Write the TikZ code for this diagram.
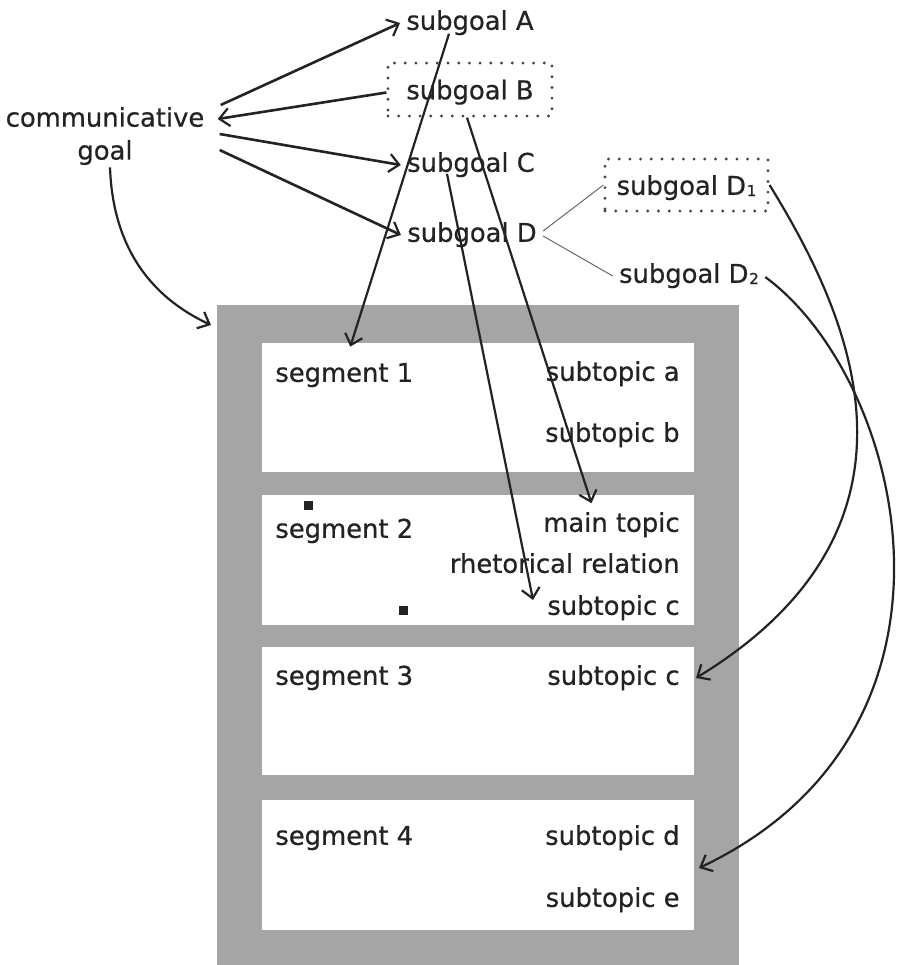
\documentclass[tikz,border=0pt]{standalone}
\usepackage{fontspec}
\setmainfont{DejaVu Sans}[FakeBold=0.6]
\usetikzlibrary{arrows.meta,calc}
\definecolor{ink}{RGB}{35,35,35}
\definecolor{band}{RGB}{165,165,165}
\definecolor{dots}{RGB}{70,70,70}
\definecolor{twig}{RGB}{105,105,105}
\newcommand{\subidx}[1]{\kern0.4pt\raisebox{-0.6pt}{\fontsize{7.5pt}{7.5pt}\selectfont #1}}

\begin{document}
\begin{tikzpicture}[x=0.5pt,y=-0.5pt,
  lbl/.style={font=\fontsize{12.9pt}{16.5pt}\selectfont, text=ink, inner sep=3pt,
              text height=9.6pt, text depth=2.8pt},
  goalbox/.style={lbl, text height=12.6pt, draw=dots, line width=1.6pt, line cap=round,
                  dash pattern=on 0pt off 5.35pt},
  flow/.style={draw=ink, line width=1.1pt,
               -{Straight Barb[length=5pt,width=9pt,line width=1.1pt]}},
  bold flow/.style={flow, line width=1.3pt},
  twigline/.style={draw=twig, line width=0.5pt},
  panel/.style={fill=white, anchor=north west, inner sep=0,
                minimum width=216pt},
  marker/.style={fill=ink, minimum size=4.5pt, inner sep=0}
]
\useasboundingbox (0,0) rectangle (896,965);

% goal hierarchy
\node[font=\fontsize{12.9pt}{16.5pt}\selectfont, text=ink, align=center, inner sep=3pt]
  (cg) at (105,136) {communicative\\goal};
\node[lbl] (A) at (470,23) {subgoal A};
\node[goalbox, minimum width=82pt, minimum height=26.5pt] (B) at (470,89.5) {subgoal B};
\node[lbl] (C) at (471,165) {subgoal C};
\node[lbl] (D) at (472,235) {subgoal D};
\node[goalbox, minimum width=81.5pt, minimum height=26pt] (D1) at (686.5,185) {subgoal D\subidx{1}};
\node[lbl] (D2) at (689,276) {subgoal D\subidx{2}};

% text segments
\node[fill=band, anchor=north west, inner sep=0, minimum width=261pt,
      minimum height=330pt] (gr) at (217,305) {};
\node[panel, minimum height=64.5pt] (w1) at (262,343) {};
\node[panel, minimum height=65pt]   (w2) at (262,495) {};
\node[panel, minimum height=64pt]   (w3) at (262,647) {};
\node[panel, minimum height=65pt]   (w4) at (262,800) {};

\node[lbl, anchor=west] (s1) at (269,375) {segment 1};
\node[lbl, anchor=west] (s2) at (269,531) {segment 2};
\node[lbl, anchor=west] (s3) at (269,678) {segment 3};
\node[lbl, anchor=west] (s4) at (269,838) {segment 4};

\node[lbl, anchor=east] (sa)  at (686,374) {subtopic a};
\node[lbl, anchor=east] (sb)  at (686,435) {subtopic b};
\node[lbl, anchor=east] (mt)  at (686,525) {main topic};
\node[lbl, anchor=east] (rr)  at (686,566) {rhetorical relation};
\node[lbl, anchor=east] (sc2) at (686,608) {subtopic c};
\node[lbl, anchor=east] (sc3) at (686,678) {subtopic c};
\node[lbl, anchor=east] (sd)  at (686,838) {subtopic d};
\node[lbl, anchor=east] (se)  at (686,900) {subtopic e};

\node[marker] (q1) at (308,505) {};
\node[marker] (q2) at (403,610) {};

% goal decomposition
\draw[bold flow] ([xshift=5pt,yshift=15.5pt]cg.east) -- (A.west);
\draw[bold flow] ([yshift=-1.5pt]B.west) -- ([xshift=3.5pt,yshift=8.5pt]cg.east);
\draw[bold flow] ([xshift=4.5pt,yshift=1pt]cg.east) -- (C.west);
\draw[bold flow] ([xshift=4.5pt,yshift=-7pt]cg.east) -- (D.west);
\draw[twigline] ([yshift=2pt]D.east) -- (D1.west);
\draw[twigline] ([yshift=-0.5pt]D.east) -- (D2.west);

% links from goals into the segments
\draw[flow] ([xshift=2.5pt,yshift=2pt]cg.south) to[out=-88,in=155]
  ([xshift=-3pt,yshift=-10pt]gr.north west);
\draw[flow] ([xshift=-10.5pt,yshift=4pt]A.south) -- ([xshift=3pt,yshift=4.8pt]s1.north);
\draw[flow] ([xshift=-1.5pt]B.south) -- ([xshift=-10pt,yshift=1.5pt]mt.north);
\draw[flow] ([xshift=-12pt,yshift=5pt]C.south) -- ([xshift=-4pt,yshift=4pt]sc2.west);
\draw[flow] (D1.east) .. controls (840,300) and (955,520) .. ([xshift=5pt]sc3.east);
\draw[flow] ([yshift=-0.5pt]D2.east) .. controls (905,380) and (990,730) ..
  ([xshift=6.5pt,yshift=-15pt]sd.east);
\end{tikzpicture}
\end{document}
